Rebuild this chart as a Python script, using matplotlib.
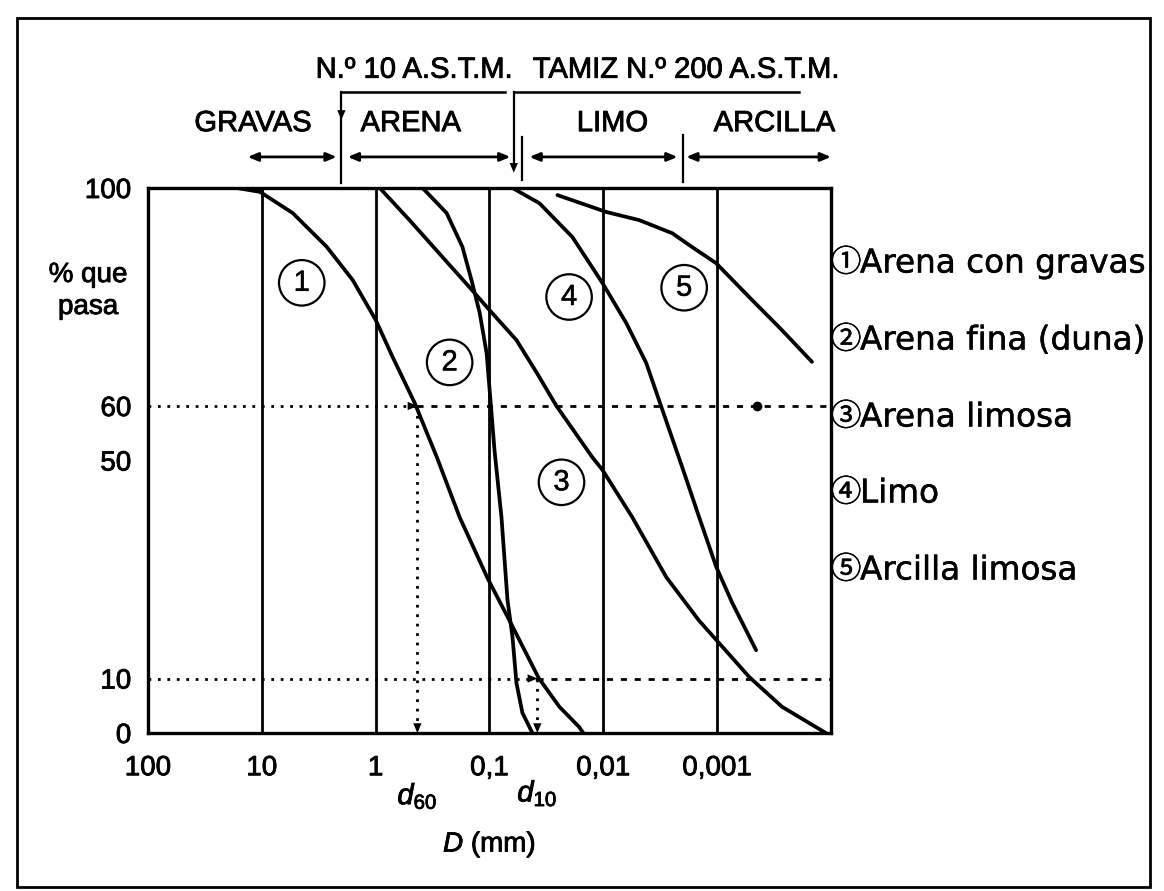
import matplotlib
matplotlib.use("Agg")
import matplotlib.pyplot as plt
import matplotlib.patheffects as pe
from matplotlib.patches import Rectangle
from matplotlib.ticker import NullLocator

plt.rcParams['font.family'] = ['Liberation Sans', 'DejaVu Sans', 'Noto Sans CJK JP']
plt.rcParams['mathtext.fontset'] = 'custom'
plt.rcParams['mathtext.rm'] = 'Liberation Sans'
plt.rcParams['mathtext.it'] = 'Liberation Sans:italic'

# grain size curves: D (mm) vs % passing
d_1 = [16.6, 10.4, 5.35, 2.69, 1.59, 1.0, 0.71, 0.455, 0.29, 0.183, 0.104, 0.067, 0.037, 0.0243, 0.0163, 0.0150]
p_1 = [100, 99.3, 95.4, 89.2, 83.1, 75.8, 69, 60.6, 50.6, 39.6, 28.4, 20.7, 10.1, 4.8, 1.1, 0]

d_2 = [0.387, 0.238, 0.173, 0.144, 0.122, 0.106, 0.096, 0.0904, 0.0785, 0.0695, 0.0628, 0.058, 0.0514, 0.0446, 0.042]
p_2 = [100, 95.4, 89.2, 83.1, 77.1, 69.7, 58.7, 51.9, 39.6, 24.4, 17.6, 9.2, 3.7, 1.1, 0]

d_3 = [0.92, 0.504, 0.258, 0.150, 0.1, 0.058, 0.0387, 0.0258, 0.0125, 0.0102, 0.00557, 0.0028, 0.00144,
       0.00102, 0.000524, 0.000269, 0.000111]
p_3 = [100, 94.1, 87.3, 81.8, 77.6, 72.1, 66.2, 60, 50.6, 48.3, 39.6, 28.6, 20.6, 17.1, 10.3, 4.8, 0]

d_4 = [0.0628, 0.0364, 0.0187, 0.0102, 0.00628, 0.0042, 0.00303, 0.00203, 0.00144, 0.00102, 0.000738, 0.000455]
p_4 = [100, 97.2, 91, 82.6, 75.2, 67.9, 59.3, 48.8, 39.6, 30.5, 23.9, 15.2]

d_5 = [0.0253, 0.00942, 0.00483, 0.00248, 0.00167, 0.00102, 0.000524, 0.000269, 0.000147]
p_5 = [98.7, 95.6, 94.1, 91.7, 89.2, 86.2, 80, 73.9, 68.1]

curves = [(d_1, p_1), (d_2, p_2), (d_3, p_3), (d_4, p_4), (d_5, p_5)]

# circled number positions (D, %)
num_labels = ['1', '2', '3', '4', '5']
num_d = [4.46, 0.224, 0.0233, 0.020, 0.00195]
num_p = [82.6, 68, 46, 80, 81.7]

legend_marks = ['\u2460', '\u2461', '\u2462', '\u2463', '\u2464']
legend_texts = ['Arena con gravas', 'Arena fina (duna)', 'Arena limosa', 'Limo', 'Arcilla limosa']

x_ticks = [100, 10, 1, 0.1, 0.01, 0.001]
x_ticklabels = ['100', '10', '1', '0,1', '0,01', '0,001']
y_ticks = [100, 60, 50, 10, 0]
grid_d = [10, 1, 0.1, 0.01, 0.001]

d60 = 0.43
d10 = 0.038
dot60 = 0.000447

# soil classes along the top
class_names = ['GRAVAS', 'ARENA', 'LIMO', 'ARCILLA']
class_text_d = [12.0, 0.493, 0.00834, 0.000316]
class_arrow_from = [13.3, 1.76, 0.0446, 0.00187]
class_arrow_to = [2.2, 0.0655, 0.00223, 0.0001]

heavy = [pe.withStroke(linewidth=0.6, foreground='k')]
light = [pe.withStroke(linewidth=0.35, foreground='k')]

fig = plt.figure(figsize=(11.64, 8.91), dpi=100)
ax = fig.add_axes([148/1164, (891-733)/891, (831-148)/1164, (733-188)/891])
ax.set_xscale('log')
ax.set_xlim(100, 1e-4)
ax.set_ylim(0, 100)

ax.set_xticks(x_ticks)
ax.set_xticklabels(x_ticklabels)
ax.xaxis.set_minor_locator(NullLocator())
ax.set_yticks(y_ticks)
ax.tick_params(axis='both', length=0, labelsize=20)
ax.tick_params(axis='x', pad=16)
ax.tick_params(axis='y', pad=12)
for lbl in ax.get_xticklabels() + ax.get_yticklabels():
    lbl.set_path_effects(heavy)
for s in ax.spines.values():
    s.set_linewidth(2.4)

for g in grid_d:
    ax.axvline(g, color='k', lw=2)

for d, p in curves:
    ax.plot(d, p, color='k', lw=2.7, solid_capstyle='round', solid_joinstyle='round')

for lab, x, y in zip(num_labels, num_d, num_p):
    ax.text(x, y, lab, ha='center', va='center', fontsize=21, path_effects=light,
            bbox=dict(boxstyle='circle,pad=0.3', fc='none', ec='k', lw=1.6))

# d60 / d10 construction lines
dots = (0, (1, 2.4))
dash = (0, (2.2, 2.8))
ax.plot([100, d60], [60, 60], color='k', lw=2, ls=dots)
ax.plot([d60, 1e-4], [60, 60], color='k', lw=2, ls=dash)
ax.plot([dot60], [60], 'o', color='k', ms=6)
ax.plot([d60, d60], [60, 0], color='k', lw=2, ls=dots)
ax.plot([100, d10], [10, 10], color='k', lw=2, ls=dots)
ax.plot([d10, 1e-4], [10, 10], color='k', lw=2, ls=dash)
ax.plot([d10, d10], [10, 0], color='k', lw=2, ls=dots)

head = dict(arrowstyle='-|>,head_length=0.7,head_width=0.3', color='k', lw=0, shrinkA=0, shrinkB=0)
ax.annotate('', xy=(d60, 60), xytext=(-14, 0), textcoords='offset points', arrowprops=head)
ax.annotate('', xy=(d10, 10), xytext=(-14, 0), textcoords='offset points', arrowprops=head)
ax.annotate('', xy=(d60, 0), xytext=(0, 14), textcoords='offset points', arrowprops=head)
ax.annotate('', xy=(d10, 0), xytext=(0, 14), textcoords='offset points', arrowprops=head)

ax.text(d60, -11.5, r'$d_{\mathrm{60}}$', ha='center', va='center', fontsize=21,
        clip_on=False, path_effects=heavy)
ax.text(d10, -11.0, r'$d_{\mathrm{10}}$', ha='center', va='center', fontsize=21,
        clip_on=False, path_effects=heavy)
ax.text(0.1, -20.5, r'$D$ (mm)', ha='center', va='center', fontsize=20,
        clip_on=False, path_effects=heavy)

# class header above the plot
dbl = dict(arrowstyle='<|-|>,head_length=0.6,head_width=0.25', color='k', lw=2, shrinkA=0, shrinkB=0)
for name, xt, a0, a1 in zip(class_names, class_text_d, class_arrow_from, class_arrow_to):
    ax.text(xt, 111.9, name, ha='center', va='center', fontsize=21, clip_on=False, path_effects=heavy)
    ax.annotate('', xy=(a1, 105.7), xytext=(a0, 105.7), arrowprops=dbl, annotation_clip=False)

# N.o 10 bracket at 2 mm
ax.plot([2, 0.0738], [117.6, 117.6], color='k', lw=1.8, clip_on=False)
ax.plot([2, 2], [117.6, 101.0], color='k', lw=1.6, clip_on=False)
ax.annotate('', xy=(2, 112.5), xytext=(0, 12), textcoords='offset points',
            arrowprops=head, annotation_clip=False)
# N.o 200 bracket
ax.plot([0.0612, 0.000191], [117.6, 117.6], color='k', lw=1.8, clip_on=False)
ax.plot([0.0612, 0.0612], [117.6, 104.0], color='k', lw=1.6, clip_on=False)
ax.annotate('', xy=(0.0612, 102.8), xytext=(0, 14), textcoords='offset points',
            arrowprops=head, annotation_clip=False)
ax.plot([0.0514, 0.0514], [109.3, 101.5], color='k', lw=1.6, clip_on=False)
ax.plot([0.002, 0.002], [109.7, 101.1], color='k', lw=1.6, clip_on=False)

narrow = ['Liberation Sans Narrow', 'Liberation Sans']
ax.text(0.464, 121.7, 'N.\u00ba 10 A.S.T.M.', ha='center', va='center', fontsize=21,
        family=narrow, clip_on=False, path_effects=heavy)
ax.text(0.0019, 121.7, 'TAMIZ N.\u00ba 200 A.S.T.M.', ha='center', va='center', fontsize=21,
        family=narrow, clip_on=False, path_effects=heavy)

# y label
fig.text(88/1164, 1 - 291/891, '% que\npasa', ha='center', va='center', fontsize=20,
         linespacing=1.3, path_effects=heavy)

# legend on the right
leg_py = [263, 340, 417, 493, 570]
for m, t, py in zip(legend_marks, legend_texts, leg_py):
    fig.text(846/1164, 1 - py/891, m, ha='center', va='center', fontsize=22,
             family=['Noto Sans CJK JP', 'DejaVu Sans'], path_effects=light)
    fig.text(860/1164, 1 - py/891, t, ha='left', va='center', fontsize=23.5,
             family=['DejaVu Sans'], path_effects=light)

# frame around the whole figure
fig.patches.append(Rectangle((17/1164, 1 - 887/891), (1150-17)/1164, (887-18)/891,
                             transform=fig.transFigure, fill=False, ec='k', lw=2))

fig.savefig('out.png', dpi=100)
